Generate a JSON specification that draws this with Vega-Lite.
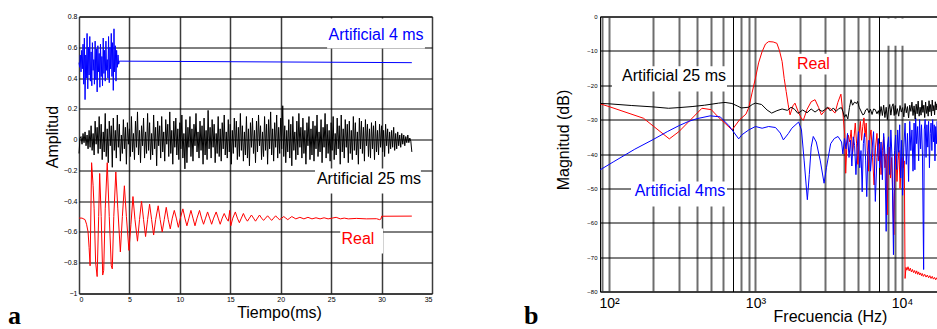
{
"$schema": "https://vega.github.io/schema/vega-lite/v6.json",
"background": "white",
"padding": {"left": 7, "top": 11.5, "right": 0, "bottom": 0},
"spacing": 90,
"config": {
  "font": "Liberation Sans",
  "view": {"stroke": "#000", "strokeWidth": 1},
  "axis": {"labelFont": "Liberation Sans", "titleFont": "Liberation Sans", "labelColor": "#000", "titleColor": "#000", "titleFontWeight": "normal", "ticks": false, "domain": false, "grid": true},
  "title": {"font": "Liberation Serif", "fontWeight": "bold", "fontSize": 26, "color": "#000"}
},
"datasets": {
  "boxA": [{"x":24.6,"x2":34.3,"y":0.787,"y2":0.592},{"x":23.4,"x2":33.9,"y":-0.188,"y2":-0.35},{"x":25.9,"x2":30.15,"y":-0.578,"y2":-0.74}],
  "labA": [{"x":29.45,"y":0.677,"t":"Artificial 4 ms","s":"A4"},{"x":28.75,"y":-0.256,"t":"Artificial 25 ms","s":"A25"},{"x":27.66,"y":-0.643,"t":"Real","s":"Real"}],
  "a4": [{"x":0,"y":0.5},{"x":0.07,"y":0.47},{"x":0.13,"y":0.55},{"x":0.2,"y":0.44},{"x":0.27,"y":0.58},{"x":0.33,"y":0.46},{"x":0.4,"y":0.62},{"x":0.47,"y":0.36},{"x":0.53,"y":0.66},{"x":0.6,"y":0.26},{"x":0.67,"y":0.55},{"x":0.73,"y":0.4},{"x":0.8,"y":0.69},{"x":0.87,"y":0.33},{"x":0.93,"y":0.6},{"x":1,"y":0.42},{"x":1.07,"y":0.67},{"x":1.13,"y":0.38},{"x":1.2,"y":0.57},{"x":1.27,"y":0.35},{"x":1.33,"y":0.63},{"x":1.4,"y":0.45},{"x":1.47,"y":0.52},{"x":1.53,"y":0.36},{"x":1.6,"y":0.64},{"x":1.67,"y":0.39},{"x":1.73,"y":0.59},{"x":1.8,"y":0.31},{"x":1.87,"y":0.61},{"x":1.93,"y":0.44},{"x":2,"y":0.56},{"x":2.07,"y":0.34},{"x":2.13,"y":0.62},{"x":2.2,"y":0.41},{"x":2.27,"y":0.54},{"x":2.33,"y":0.35},{"x":2.4,"y":0.66},{"x":2.47,"y":0.43},{"x":2.53,"y":0.58},{"x":2.6,"y":0.38},{"x":2.67,"y":0.64},{"x":2.73,"y":0.45},{"x":2.8,"y":0.52},{"x":2.87,"y":0.4},{"x":2.93,"y":0.67},{"x":3,"y":0.37},{"x":3.07,"y":0.6},{"x":3.13,"y":0.46},{"x":3.2,"y":0.69},{"x":3.27,"y":0.41},{"x":3.33,"y":0.63},{"x":3.4,"y":0.32},{"x":3.47,"y":0.72},{"x":3.53,"y":0.44},{"x":3.6,"y":0.61},{"x":3.67,"y":0.38},{"x":3.73,"y":0.58},{"x":3.8,"y":0.47},{"x":3.87,"y":0.55},{"x":3.93,"y":0.49},{"x":4,"y":0.51},{"x":33,"y":0.5}],
  "a25": [{"x":0,"y":-0.09},{"x":0.1,"y":0.01},{"x":0.2,"y":0.02},{"x":0.3,"y":-0.03},{"x":0.4,"y":0.04},{"x":0.5,"y":-0.02},{"x":0.6,"y":0.05},{"x":0.7,"y":-0.04},{"x":0.8,"y":0.03},{"x":0.9,"y":-0.06},
{"x":1,"y":0.06},{"x":1.1,"y":-0.05},{"x":1.2,"y":0.09},{"x":1.3,"y":-0.07},{"x":1.4,"y":0.04},{"x":1.5,"y":-0.1},{"x":1.6,"y":0.12},{"x":1.7,"y":-0.03},{"x":1.8,"y":0.08},{"x":1.9,"y":-0.09},
{"x":2,"y":0.15},{"x":2.1,"y":-0.06},{"x":2.2,"y":0.1},{"x":2.3,"y":-0.13},{"x":2.4,"y":0.05},{"x":2.5,"y":-0.08},{"x":2.6,"y":0.17},{"x":2.7,"y":-0.11},{"x":2.8,"y":0.07},{"x":2.9,"y":-0.15},
{"x":3,"y":0.12},{"x":3.1,"y":-0.04},{"x":3.2,"y":0.09},{"x":3.3,"y":-0.18},{"x":3.4,"y":0.14},{"x":3.5,"y":-0.07},{"x":3.6,"y":0.06},{"x":3.7,"y":-0.12},{"x":3.8,"y":0.16},{"x":3.9,"y":-0.05},
{"x":4,"y":0.1},{"x":4.1,"y":-0.14},{"x":4.2,"y":0.03},{"x":4.3,"y":-0.09},{"x":4.4,"y":0.13},{"x":4.5,"y":-0.06},{"x":4.6,"y":0.08},{"x":4.7,"y":-0.16},{"x":4.8,"y":0.11},{"x":4.9,"y":-0.03},
{"x":5,"y":0.07},{"x":5.1,"y":-0.11},{"x":5.2,"y":0.15},{"x":5.3,"y":-0.08},{"x":5.4,"y":0.04},{"x":5.5,"y":-0.13},{"x":5.6,"y":0.12},{"x":5.7,"y":-0.05},{"x":5.8,"y":0.18},{"x":5.9,"y":-0.1},
{"x":6,"y":0.06},{"x":6.1,"y":-0.15},{"x":6.2,"y":0.09},{"x":6.3,"y":-0.04},{"x":6.4,"y":0.14},{"x":6.5,"y":-0.12},{"x":6.6,"y":0.05},{"x":6.7,"y":-0.09},{"x":6.8,"y":0.17},{"x":6.9,"y":-0.07},
{"x":7,"y":0.11},{"x":7.1,"y":-0.13},{"x":7.2,"y":0.04},{"x":7.3,"y":-0.1},{"x":7.4,"y":0.16},{"x":7.5,"y":-0.06},{"x":7.6,"y":0.08},{"x":7.7,"y":-0.17},{"x":7.8,"y":0.12},{"x":7.9,"y":-0.04},
{"x":8,"y":0.09},{"x":8.1,"y":-0.12},{"x":8.2,"y":0.15},{"x":8.3,"y":-0.08},{"x":8.4,"y":0.05},{"x":8.5,"y":-0.14},{"x":8.6,"y":0.13},{"x":8.7,"y":-0.03},{"x":8.8,"y":0.1},{"x":8.9,"y":-0.11},
{"x":9,"y":0.18},{"x":9.1,"y":-0.09},{"x":9.2,"y":0.06},{"x":9.3,"y":-0.16},{"x":9.4,"y":0.12},{"x":9.5,"y":-0.05},{"x":9.6,"y":0.14},{"x":9.7,"y":-0.1},{"x":9.8,"y":0.07},{"x":9.9,"y":-0.13},
{"x":10,"y":0.11},{"x":10.1,"y":-0.06},{"x":10.2,"y":0.16},{"x":10.3,"y":-0.12},{"x":10.4,"y":0.04},{"x":10.5,"y":-0.19},{"x":10.6,"y":0.13},{"x":10.7,"y":-0.15},{"x":10.8,"y":0.08},{"x":10.9,"y":-0.05},
{"x":11,"y":0.15},{"x":11.1,"y":-0.11},{"x":11.2,"y":0.07},{"x":11.3,"y":-0.14},{"x":11.4,"y":0.1},{"x":11.5,"y":-0.04},{"x":11.6,"y":0.17},{"x":11.7,"y":-0.08},{"x":11.8,"y":0.05},{"x":11.9,"y":-0.12},
{"x":12,"y":0.12},{"x":12.1,"y":-0.07},{"x":12.2,"y":0.09},{"x":12.3,"y":-0.16},{"x":12.4,"y":0.14},{"x":12.5,"y":-0.1},{"x":12.6,"y":0.06},{"x":12.7,"y":-0.13},{"x":12.8,"y":0.19},{"x":12.9,"y":-0.06},
{"x":13,"y":0.08},{"x":13.1,"y":-0.12},{"x":13.2,"y":0.13},{"x":13.3,"y":-0.05},{"x":13.4,"y":0.1},{"x":13.5,"y":-0.15},{"x":13.6,"y":0.04},{"x":13.7,"y":-0.09},{"x":13.8,"y":0.15},{"x":13.9,"y":-0.11},
{"x":14,"y":0.07},{"x":14.1,"y":-0.14},{"x":14.2,"y":0.11},{"x":14.3,"y":-0.06},{"x":14.4,"y":0.16},{"x":14.5,"y":-0.1},{"x":14.6,"y":0.05},{"x":14.7,"y":-0.12},{"x":14.8,"y":0.13},{"x":14.9,"y":-0.08},
{"x":15,"y":0.1},{"x":15.1,"y":-0.16},{"x":15.2,"y":0.06},{"x":15.3,"y":-0.09},{"x":15.4,"y":0.14},{"x":15.5,"y":-0.05},{"x":15.6,"y":0.12},{"x":15.7,"y":-0.13},{"x":15.8,"y":0.08},{"x":15.9,"y":-0.11},
{"x":16,"y":0.17},{"x":16.1,"y":-0.07},{"x":16.2,"y":0.09},{"x":16.3,"y":-0.14},{"x":16.4,"y":0.05},{"x":16.5,"y":-0.1},{"x":16.6,"y":0.15},{"x":16.7,"y":-0.12},{"x":16.8,"y":0.07},{"x":16.9,"y":-0.17},
{"x":17,"y":0.11},{"x":17.1,"y":-0.05},{"x":17.2,"y":0.14},{"x":17.3,"y":-0.09},{"x":17.4,"y":0.06},{"x":17.5,"y":-0.15},{"x":17.6,"y":0.12},{"x":17.7,"y":-0.08},{"x":17.8,"y":0.16},{"x":17.9,"y":-0.04},
{"x":18,"y":0.09},{"x":18.1,"y":-0.13},{"x":18.2,"y":0.05},{"x":18.3,"y":-0.11},{"x":18.4,"y":0.15},{"x":18.5,"y":-0.07},{"x":18.6,"y":0.1},{"x":18.7,"y":-0.16},{"x":18.8,"y":0.13},{"x":18.9,"y":-0.06},
{"x":19,"y":0.18},{"x":19.1,"y":-0.1},{"x":19.2,"y":0.07},{"x":19.3,"y":-0.14},{"x":19.4,"y":0.11},{"x":19.5,"y":-0.05},{"x":19.6,"y":0.16},{"x":19.7,"y":-0.12},{"x":19.8,"y":0.08},{"x":19.9,"y":-0.09},
{"x":20,"y":0.14},{"x":20.1,"y":-0.06},{"x":20.2,"y":0.22},{"x":20.3,"y":-0.11},{"x":20.4,"y":0.09},{"x":20.5,"y":-0.15},{"x":20.6,"y":0.06},{"x":20.7,"y":-0.08},{"x":20.8,"y":0.13},{"x":20.9,"y":-0.12},
{"x":21,"y":0.1},{"x":21.1,"y":-0.17},{"x":21.2,"y":0.15},{"x":21.3,"y":-0.07},{"x":21.4,"y":0.05},{"x":21.5,"y":-0.13},{"x":21.6,"y":0.12},{"x":21.7,"y":-0.1},{"x":21.8,"y":0.17},{"x":21.9,"y":-0.05},
{"x":22,"y":0.08},{"x":22.1,"y":-0.12},{"x":22.2,"y":0.14},{"x":22.3,"y":-0.09},{"x":22.4,"y":0.06},{"x":22.5,"y":-0.16},{"x":22.6,"y":0.11},{"x":22.7,"y":-0.04},{"x":22.8,"y":0.15},{"x":22.9,"y":-0.13},
{"x":23,"y":0.07},{"x":23.1,"y":-0.1},{"x":23.2,"y":0.12},{"x":23.3,"y":-0.14},{"x":23.4,"y":0.09},{"x":23.5,"y":-0.06},{"x":23.6,"y":0.16},{"x":23.7,"y":-0.11},{"x":23.8,"y":0.05},{"x":23.9,"y":-0.08},
{"x":24,"y":0.13},{"x":24.1,"y":-0.15},{"x":24.2,"y":0.08},{"x":24.3,"y":-0.05},{"x":24.4,"y":0.17},{"x":24.5,"y":-0.12},{"x":24.6,"y":0.1},{"x":24.7,"y":-0.09},{"x":24.8,"y":0.06},{"x":24.9,"y":-0.14},
{"x":25,"y":0.11},{"x":25.1,"y":-0.07},{"x":25.2,"y":0.15},{"x":25.3,"y":-0.13},{"x":25.4,"y":0.04},{"x":25.5,"y":-0.1},{"x":25.6,"y":0.14},{"x":25.7,"y":-0.06},{"x":25.8,"y":0.09},{"x":25.9,"y":-0.16},
{"x":26,"y":0.16},{"x":26.1,"y":-0.08},{"x":26.2,"y":0.07},{"x":26.3,"y":-0.12},{"x":26.4,"y":0.13},{"x":26.5,"y":-0.05},{"x":26.6,"y":0.1},{"x":26.7,"y":-0.15},{"x":26.8,"y":0.12},{"x":26.9,"y":-0.09},
{"x":27,"y":0.06},{"x":27.1,"y":-0.13},{"x":27.2,"y":0.15},{"x":27.3,"y":-0.07},{"x":27.4,"y":0.11},{"x":27.5,"y":-0.1},{"x":27.6,"y":0.05},{"x":27.7,"y":-0.16},{"x":27.8,"y":0.14},{"x":27.9,"y":-0.06},
{"x":28,"y":0.12},{"x":28.1,"y":-0.09},{"x":28.2,"y":0.08},{"x":28.3,"y":-0.14},{"x":28.4,"y":0.13},{"x":28.5,"y":-0.04},{"x":28.6,"y":0.1},{"x":28.7,"y":-0.11},{"x":28.8,"y":0.07},{"x":28.9,"y":-0.12},
{"x":29,"y":0.11},{"x":29.1,"y":-0.06},{"x":29.2,"y":0.09},{"x":29.3,"y":-0.13},{"x":29.4,"y":0.12},{"x":29.5,"y":-0.08},{"x":29.6,"y":0.06},{"x":29.7,"y":-0.1},{"x":29.8,"y":0.1},{"x":29.9,"y":-0.05},
{"x":30,"y":0.09},{"x":30.1,"y":-0.08},{"x":30.2,"y":0.06},{"x":30.3,"y":-0.11},{"x":30.4,"y":0.1},{"x":30.5,"y":-0.04},{"x":30.6,"y":0.07},{"x":30.7,"y":-0.09},{"x":30.8,"y":0.05},{"x":30.9,"y":-0.06},
{"x":31,"y":0.06},{"x":31.1,"y":-0.05},{"x":31.2,"y":0.08},{"x":31.3,"y":-0.07},{"x":31.4,"y":0.04},{"x":31.5,"y":-0.06},{"x":31.6,"y":0.05},{"x":31.7,"y":-0.04},{"x":31.8,"y":0.03},{"x":31.9,"y":-0.05},
{"x":32,"y":0.04},{"x":32.1,"y":-0.03},{"x":32.2,"y":0.03},{"x":32.3,"y":-0.04},{"x":32.4,"y":0.02},{"x":32.5,"y":-0.02},{"x":32.6,"y":0.03},{"x":32.7,"y":-0.02},{"x":32.8,"y":0.01},{"x":32.9,"y":-0.01},{"x":33,"y":-0.08}],
  "aReal": [{"x":0,"y":-0.51},{"x":0.3,"y":-0.51},{"x":0.6,"y":-0.52},{"x":0.75,"y":-0.55},{"x":0.9,"y":-0.6},{"x":1,"y":-0.7},{"x":1.1,"y":-0.82},{"x":1.25,"y":-0.15},{"x":1.4,"y":-0.3},{"x":1.5,"y":-0.45},{"x":1.65,"y":-0.8},{"x":1.8,"y":-0.89},{"x":1.95,"y":-0.5},{"x":2.05,"y":-0.22},{"x":2.2,"y":-0.5},{"x":2.35,"y":-0.88},{"x":2.45,"y":-0.85},{"x":2.6,"y":-0.45},{"x":2.8,"y":-0.15},{"x":3,"y":-0.5},{"x":3.2,"y":-0.82},{"x":3.3,"y":-0.84},{"x":3.45,"y":-0.5},{"x":3.65,"y":-0.21},{"x":3.85,"y":-0.45},{"x":4.1,"y":-0.73},{"x":4.3,"y":-0.5},{"x":4.5,"y":-0.3},{"x":4.7,"y":-0.5},{"x":4.95,"y":-0.72},{"x":5.15,"y":-0.55},{"x":5.35,"y":-0.37},{"x":5.55,"y":-0.52},{"x":5.8,"y":-0.66},{"x":6,"y":-0.52},{"x":6.2,"y":-0.4},{"x":6.4,"y":-0.52},{"x":6.6,"y":-0.63},{"x":6.8,"y":-0.52},{"x":7,"y":-0.42},{"x":7.2,"y":-0.52},{"x":7.4,"y":-0.62},{"x":7.6,"y":-0.52},{"x":7.85,"y":-0.43},{"x":8.05,"y":-0.52},{"x":8.25,"y":-0.6},{"x":8.45,"y":-0.52},{"x":8.65,"y":-0.44},{"x":8.85,"y":-0.52},{"x":9.05,"y":-0.58},{"x":9.25,"y":-0.51},{"x":9.45,"y":-0.46},{"x":9.65,"y":-0.51},{"x":9.85,"y":-0.57},{"x":10.05,"y":-0.51},{"x":10.3,"y":-0.45},{"x":10.5,"y":-0.51},{"x":10.7,"y":-0.56},{"x":10.9,"y":-0.51},{"x":11.1,"y":-0.46},{"x":11.3,"y":-0.51},{"x":11.5,"y":-0.56},{"x":11.7,"y":-0.51},{"x":11.95,"y":-0.46},{"x":12.15,"y":-0.51},{"x":12.35,"y":-0.55},{"x":12.55,"y":-0.51},{"x":12.75,"y":-0.47},{"x":12.95,"y":-0.51},{"x":13.15,"y":-0.55},{"x":13.35,"y":-0.51},{"x":13.6,"y":-0.47},{"x":13.8,"y":-0.51},{"x":14,"y":-0.55},{"x":14.2,"y":-0.51},{"x":14.4,"y":-0.48},{"x":14.6,"y":-0.51},{"x":14.8,"y":-0.53},{"x":14.95,"y":-0.46},{"x":15.05,"y":-0.56},{"x":15.25,"y":-0.51},{"x":15.5,"y":-0.47},{"x":15.7,"y":-0.51},{"x":15.9,"y":-0.54},{"x":16.1,"y":-0.51},{"x":16.3,"y":-0.48},{"x":16.5,"y":-0.51},{"x":16.7,"y":-0.53},{"x":16.9,"y":-0.51},{"x":17.1,"y":-0.49},{"x":17.3,"y":-0.51},{"x":17.5,"y":-0.53},{"x":17.7,"y":-0.51},{"x":17.9,"y":-0.49},{"x":18.1,"y":-0.51},{"x":18.3,"y":-0.525},{"x":18.5,"y":-0.51},{"x":18.7,"y":-0.495},{"x":18.9,"y":-0.51},{"x":19.1,"y":-0.525},{"x":19.3,"y":-0.51},{"x":19.5,"y":-0.495},{"x":19.7,"y":-0.51},{"x":19.9,"y":-0.52},{"x":20.1,"y":-0.51},{"x":20.3,"y":-0.5},{"x":20.5,"y":-0.51},{"x":20.7,"y":-0.52},{"x":20.9,"y":-0.51},{"x":21.1,"y":-0.5},{"x":21.5,"y":-0.515},{"x":21.9,"y":-0.505},{"x":22.3,"y":-0.515},{"x":22.7,"y":-0.505},{"x":23.1,"y":-0.515},{"x":23.5,"y":-0.508},{"x":23.9,"y":-0.515},{"x":24.3,"y":-0.508},{"x":24.7,"y":-0.515},{"x":25.1,"y":-0.51},{"x":25.5,"y":-0.505},{"x":25.9,"y":-0.515},{"x":26.3,"y":-0.51},{"x":26.7,"y":-0.515},{"x":27.5,"y":-0.512},{"x":28.5,"y":-0.515},{"x":29.5,"y":-0.514},{"x":29.8,"y":-0.52},{"x":29.95,"y":-0.515},{"x":30,"y":-0.498},{"x":33,"y":-0.497}],
  "boxB": [{"x":104.8,"x2":639,"y":-14.5,"y2":-21.8},{"x":141.3,"x2":639,"y":-48,"y2":-55.3},{"x":1919,"x2":3226,"y":-10.8,"y2":-16.9},{"x":7500,"x2":10500,"y":-0.6,"y2":-8.5}],
  "labB": [{"x":277.8,"y":-17.45,"t":"Artificial 25 ms","s":"A25"},{"x":305.2,"y":-50.9,"t":"Artificial 4ms","s":"A4"},{"x":2488,"y":-13.96,"t":"Real","s":"Real"}],
  "bRed": [{"x":87,"y":-25.4},{"x":100,"y":-26.2},{"x":172,"y":-29.6},{"x":258,"y":-35.6},{"x":300,"y":-33.5},{"x":431,"y":-26.7},{"x":499,"y":-27.1},{"x":550,"y":-29},{"x":692,"y":-33},{"x":780,"y":-30},{"x":861,"y":-28.4},{"x":900,"y":-26.5},{"x":950,"y":-22},{"x":1000,"y":-17.9},{"x":1050,"y":-13.5},{"x":1110,"y":-10.2},{"x":1170,"y":-8},{"x":1230,"y":-7.3},{"x":1320,"y":-7.4},{"x":1400,"y":-7.8},{"x":1460,"y":-10},{"x":1520,"y":-13.1},{"x":1570,"y":-18},{"x":1620,"y":-21.8},{"x":1670,"y":-25.5},{"x":1722,"y":-28.6},{"x":1800,"y":-26},{"x":1860,"y":-25.2},{"x":1950,"y":-27.5},{"x":2050,"y":-29.5},{"x":2120,"y":-30.2},{"x":2250,"y":-27},{"x":2400,"y":-24.8},{"x":2550,"y":-24.2},{"x":2700,"y":-26.5},{"x":2820,"y":-28.6},{"x":3000,"y":-27.2},{"x":3150,"y":-26.5},{"x":3300,"y":-27},{"x":3490,"y":-28.1},{"x":3650,"y":-25},{"x":3830,"y":-22.6},{"x":3950,"y":-28},{"x":4070,"y":-34.4},{"x":4130,"y":-45.6},{"x":4200,"y":-38},{"x":4300,"y":-34.5},{"x":4400,"y":-36.5},{"x":4500,"y":-33},{"x":4600,"y":-40},{"x":4700,"y":-35.5},{"x":4800,"y":-31},{"x":4900,"y":-37},{"x":5000,"y":-43},{"x":5100,"y":-34},{"x":5200,"y":-30.5},{"x":5300,"y":-36},{"x":5400,"y":-32},{"x":5500,"y":-29.5},{"x":5600,"y":-35},{"x":5700,"y":-31},{"x":5800,"y":-39},{"x":5900,"y":-45},{"x":6000,"y":-36},{"x":6150,"y":-33},{"x":6300,"y":-41},{"x":6450,"y":-49},{"x":6600,"y":-38},{"x":6750,"y":-34},{"x":6900,"y":-42},{"x":7050,"y":-37},{"x":7200,"y":-46},{"x":7350,"y":-39},{"x":7500,"y":-35},{"x":7650,"y":-44},{"x":7800,"y":-40},{"x":7920,"y":-57.7},{"x":8050,"y":-42},{"x":8200,"y":-38},{"x":8350,"y":-47},{"x":8500,"y":-41},{"x":8650,"y":-52},{"x":8800,"y":-63.5},{"x":8950,"y":-44},{"x":9100,"y":-40},{"x":9250,"y":-48},{"x":9400,"y":-42},{"x":9550,"y":-39},{"x":9700,"y":-50},{"x":9850,"y":-45},{"x":10000,"y":-41},{"x":10200,"y":-44},{"x":10380,"y":-42},{"x":10500,"y":-76.2},{"x":10650,"y":-73},{"x":10800,"y":-73.8},{"x":11000,"y":-72.8},{"x":11200,"y":-74},{"x":11400,"y":-73.2},{"x":11600,"y":-74.3},{"x":11800,"y":-73.6},{"x":12000,"y":-74.5},{"x":12200,"y":-73.9},{"x":12400,"y":-74.8},{"x":12600,"y":-74},{"x":12800,"y":-75},{"x":13000,"y":-74.3},{"x":13200,"y":-75.2},{"x":13400,"y":-74.6},{"x":13600,"y":-75.4},{"x":13800,"y":-74.8},{"x":14000,"y":-75.6},{"x":14300,"y":-75},{"x":14600,"y":-75.8},{"x":14900,"y":-75.2},{"x":15200,"y":-76},{"x":15500,"y":-75.4},{"x":15800,"y":-76.2},{"x":16100,"y":-75.6},{"x":16400,"y":-76.4},{"x":16700,"y":-75.9},{"x":17000,"y":-76.6},{"x":17300,"y":-76},{"x":17600,"y":-76.5},{"x":17900,"y":-76.1}],
  "bBlue": [{"x":87,"y":-44.6},{"x":108,"y":-42.2},{"x":150,"y":-38.6},{"x":200,"y":-35.8},{"x":250,"y":-33.5},{"x":299,"y":-31.8},{"x":350,"y":-30.5},{"x":400,"y":-29.7},{"x":491,"y":-28.9},{"x":575,"y":-29.2},{"x":660,"y":-31.8},{"x":768,"y":-35.6},{"x":808,"y":-34.4},{"x":899,"y":-33},{"x":1000,"y":-32},{"x":1110,"y":-32.5},{"x":1230,"y":-32},{"x":1370,"y":-32.3},{"x":1476,"y":-33.9},{"x":1550,"y":-35.9},{"x":1680,"y":-34},{"x":1770,"y":-32.5},{"x":1970,"y":-30.7},{"x":2060,"y":-33},{"x":2150,"y":-42},{"x":2260,"y":-53.3},{"x":2330,"y":-46},{"x":2400,"y":-38},{"x":2480,"y":-34.9},{"x":2600,"y":-36.5},{"x":2770,"y":-42},{"x":2940,"y":-48.5},{"x":3050,"y":-44},{"x":3260,"y":-37},{"x":3450,"y":-35.5},{"x":3660,"y":-34.9},{"x":3870,"y":-36.5},{"x":3950,"y":-40},{"x":4050,"y":-35.5},{"x":4150,"y":-38.5},{"x":4250,"y":-34},{"x":4350,"y":-41},{"x":4450,"y":-36},{"x":4550,"y":-43.5},{"x":4650,"y":-35},{"x":4750,"y":-37.5},{"x":4850,"y":-46},{"x":4950,"y":-38},{"x":5050,"y":-33.5},{"x":5150,"y":-44},{"x":5250,"y":-39},{"x":5350,"y":-51},{"x":5450,"y":-37},{"x":5550,"y":-34},{"x":5650,"y":-42},{"x":5750,"y":-52.4},{"x":5850,"y":-40},{"x":5950,"y":-36},{"x":6100,"y":-45},{"x":6250,"y":-38.5},{"x":6400,"y":-33.5},{"x":6580,"y":-53.8},{"x":6750,"y":-41},{"x":6900,"y":-35.5},{"x":7050,"y":-44},{"x":7200,"y":-36.5},{"x":7350,"y":-47.5},{"x":7500,"y":-34},{"x":7650,"y":-40},{"x":7800,"y":-62.5},{"x":7950,"y":-38},{"x":8100,"y":-35},{"x":8250,"y":-46},{"x":8400,"y":-33},{"x":8550,"y":-41},{"x":8750,"y":-69.3},{"x":8900,"y":-39},{"x":9050,"y":-34.5},{"x":9200,"y":-44.5},{"x":9350,"y":-33},{"x":9500,"y":-39.5},{"x":9650,"y":-31.5},{"x":9800,"y":-47},{"x":9950,"y":-36},{"x":10100,"y":-52},{"x":10300,"y":-38},{"x":10500,"y":-31},{"x":10700,"y":-43},{"x":10900,"y":-34},{"x":11100,"y":-48},{"x":11300,"y":-30.5},{"x":11500,"y":-39},{"x":11700,"y":-33},{"x":11900,"y":-45},{"x":12100,"y":-31},{"x":12250,"y":-44.6},{"x":12400,"y":-29.5},{"x":12600,"y":-37},{"x":12800,"y":-32},{"x":13000,"y":-42},{"x":13200,"y":-30},{"x":13400,"y":-38.5},{"x":13600,"y":-31.5},{"x":13800,"y":-40},{"x":14060,"y":-73.6},{"x":14200,"y":-33},{"x":14400,"y":-30},{"x":14600,"y":-41},{"x":14800,"y":-31.5},{"x":15000,"y":-38},{"x":15200,"y":-30.5},{"x":15400,"y":-44},{"x":15600,"y":-34},{"x":15800,"y":-31},{"x":16000,"y":-39},{"x":16200,"y":-30},{"x":16400,"y":-36.5},{"x":16600,"y":-31.5},{"x":16800,"y":-42},{"x":17000,"y":-32},{"x":17200,"y":-37},{"x":17400,"y":-30.5},{"x":17600,"y":-35},{"x":17900,"y":-32}],
  "bBlack": [{"x":87,"y":-25.3},{"x":100,"y":-25.4},{"x":143,"y":-25.9},{"x":200,"y":-26.3},{"x":255,"y":-26.7},{"x":300,"y":-26.5},{"x":369,"y":-26.2},{"x":450,"y":-25.8},{"x":560,"y":-25.2},{"x":620,"y":-25},{"x":690,"y":-25.3},{"x":750,"y":-26},{"x":800,"y":-26.6},{"x":897,"y":-26.4},{"x":950,"y":-25.6},{"x":1000,"y":-25.2},{"x":1100,"y":-25.6},{"x":1200,"y":-27.2},{"x":1290,"y":-28.1},{"x":1400,"y":-27.4},{"x":1520,"y":-26.9},{"x":1650,"y":-27.3},{"x":1750,"y":-26.4},{"x":1850,"y":-27},{"x":1950,"y":-28.2},{"x":2100,"y":-27.2},{"x":2250,"y":-28},{"x":2400,"y":-26.9},{"x":2550,"y":-27.8},{"x":2700,"y":-27},{"x":2850,"y":-27.6},{"x":2970,"y":-27.1},{"x":3100,"y":-26.4},{"x":3250,"y":-27.5},{"x":3400,"y":-26.6},{"x":3550,"y":-27.6},{"x":3700,"y":-26.8},{"x":3860,"y":-26.5},{"x":3950,"y":-27.6},{"x":4050,"y":-29.3},{"x":4150,"y":-28.5},{"x":4270,"y":-29.8},{"x":4380,"y":-26.5},{"x":4490,"y":-24.2},{"x":4600,"y":-25.8},{"x":4750,"y":-24.9},{"x":4900,"y":-25.3},{"x":4980,"y":-24.7},{"x":5100,"y":-26.4},{"x":5250,"y":-27.5},{"x":5400,"y":-28.6},{"x":5520,"y":-28.4},{"x":5650,"y":-27.2},{"x":5800,"y":-26.8},{"x":5950,"y":-28},{"x":6100,"y":-27},{"x":6250,"y":-28.5},{"x":6400,"y":-26.9},{"x":6570,"y":-27.1},{"x":6750,"y":-28.3},{"x":6900,"y":-27.4},{"x":7050,"y":-29},{"x":7200,"y":-26.2},{"x":7350,"y":-28.8},{"x":7500,"y":-25.8},{"x":7650,"y":-29.4},{"x":7800,"y":-26.4},{"x":7950,"y":-30},{"x":8100,"y":-27},{"x":8250,"y":-25.6},{"x":8400,"y":-28.7},{"x":8550,"y":-26.2},{"x":8700,"y":-25.4},{"x":8850,"y":-28.8},{"x":9000,"y":-25.9},{"x":9100,"y":-28.5},{"x":9300,"y":-26.8},{"x":9500,"y":-29},{"x":9700,"y":-25.9},{"x":9900,"y":-27.8},{"x":10100,"y":-26.5},{"x":10300,"y":-29.2},{"x":10500,"y":-25.3},{"x":10700,"y":-28},{"x":10900,"y":-26.2},{"x":11100,"y":-29.5},{"x":11300,"y":-25.8},{"x":11500,"y":-27.6},{"x":11700,"y":-24.9},{"x":11900,"y":-28.8},{"x":12100,"y":-26},{"x":12300,"y":-29.8},{"x":12500,"y":-25.5},{"x":12700,"y":-28.3},{"x":12900,"y":-24.6},{"x":13100,"y":-29},{"x":13300,"y":-26.4},{"x":13500,"y":-28.7},{"x":13700,"y":-24.4},{"x":13900,"y":-27.9},{"x":14100,"y":-25.8},{"x":14300,"y":-29.4},{"x":14500,"y":-24.9},{"x":14700,"y":-28.2},{"x":14900,"y":-26.1},{"x":15100,"y":-29},{"x":15300,"y":-24.5},{"x":15500,"y":-27.7},{"x":15700,"y":-25.6},{"x":15900,"y":-28.9},{"x":16100,"y":-24.3},{"x":16300,"y":-27.5},{"x":16500,"y":-25.9},{"x":16700,"y":-28.6},{"x":16900,"y":-24.8},{"x":17100,"y":-27.2},{"x":17300,"y":-25.4},{"x":17600,"y":-26.5},{"x":17900,"y":-25}]
},
"hconcat": [
  {
    "width": 353, "height": 277,
    "title": {"text": "a", "orient": "bottom", "anchor": "start", "frame": "bounds", "offset": 0, "dx": -36, "dy": -18},
    "encoding": {
      "x": {"field": "x", "type": "quantitative", "scale": {"domain": [0, 35], "nice": false, "zero": false},
            "axis": {"values": [0,5,10,15,20,25,30,35], "format": "d", "labelFontSize": 7, "labelPadding": 2, "gridColor": "#3c3c3c", "gridWidth": 1.5, "title": "Tiempo(ms)", "titleFontSize": 16, "titleX": 200, "titleY": 11, "titleBaseline": "top"}},
      "y": {"field": "y", "type": "quantitative", "scale": {"domain": [-1, 0.8], "nice": false, "zero": false},
            "axis": {"values": [-1,-0.8,-0.6,-0.4,-0.2,0,0.2,0.4,0.6,0.8], "format": "~g", "labelFontSize": 7, "labelPadding": 2, "gridColor": "#000", "gridWidth": 1, "title": "Amplitud", "titleFontSize": 16, "titleX": -19, "titleY": 120}}
    },
    "layer": [
      {"data": {"name": "boxA"}, "mark": {"type": "rect", "fill": "#fff"}, "encoding": {"x2": {"field": "x2"}, "y2": {"field": "y2"}}},
      {"data": {"name": "a4"}, "mark": {"type": "line", "color": "#0000ff", "strokeWidth": 1}, "encoding": {}},
      {"data": {"name": "a25"}, "mark": {"type": "line", "color": "#000000", "strokeWidth": 1}, "encoding": {}},
      {"data": {"name": "aReal"}, "mark": {"type": "line", "color": "#ff0000", "strokeWidth": 1}, "encoding": {}},
      {"data": {"name": "labA"}, "mark": {"type": "text", "fontSize": 16, "font": "Liberation Sans"},
       "encoding": {"text": {"field": "t"}, "color": {"field": "s", "type": "nominal", "scale": {"domain": ["A4","A25","Real"], "range": ["#0000ff","#000000","#ff0000"]}, "legend": null}}}
    ]
  },
  {
    "width": 339, "height": 275,
    "title": {"text": "b", "orient": "bottom", "anchor": "start", "frame": "bounds", "offset": 0, "dx": -31, "dy": -22},
    "encoding": {
      "x": {"field": "x", "type": "quantitative", "scale": {"type": "log", "domain": [86.8, 17900], "nice": false},
            "axis": {"values": [90,100,200,300,400,500,600,700,800,900,1000,2000,3000,4000,5000,6000,7000,8000,9000,10000],
                     "labelExpr": "datum.value == 100 ? '10²' : datum.value == 1000 ? '10³' : datum.value == 10000 ? '10⁴' : ''",
                     "labelFontSize": 14, "labelPadding": 5, "labelDx": 5, "labelOverlap": false,
                     "gridColor": {"condition": {"test": "datum.value == 700 || datum.value == 7000", "value": "#000000"}, "value": "#6e6e6e"},
                     "gridWidth": {"condition": {"test": "datum.value == 700 || datum.value == 7000", "value": 1}, "value": 2},
                     "title": "Frecuencia (Hz)", "titleFontSize": 16, "titleX": 230, "titleY": 17, "titleBaseline": "top"}},
      "y": {"field": "y", "type": "quantitative", "scale": {"domain": [-80, 0], "nice": false, "zero": false},
            "axis": {"values": [-80,-70,-60,-50,-40,-30,-20,-10,0], "format": "d", "labelFontSize": 6, "labelPadding": 3, "gridColor": "#000", "gridWidth": 1, "title": "Magnitud (dB)", "titleFontSize": 16, "titleX": -29, "titleY": 123}}
    },
    "layer": [
      {"data": {"name": "boxB"}, "mark": {"type": "rect", "fill": "#fff"}, "encoding": {"x2": {"field": "x2"}, "y2": {"field": "y2"}}},
      {"data": {"name": "bRed"}, "mark": {"type": "line", "color": "#ff0000", "strokeWidth": 1, "clip": true}, "encoding": {}},
      {"data": {"name": "bBlue"}, "mark": {"type": "line", "color": "#0000ff", "strokeWidth": 1, "clip": true}, "encoding": {}},
      {"data": {"name": "bBlack"}, "mark": {"type": "line", "color": "#000000", "strokeWidth": 1, "clip": true}, "encoding": {}},
      {"data": {"name": "labB"}, "mark": {"type": "text", "fontSize": 16, "font": "Liberation Sans"},
       "encoding": {"text": {"field": "t"}, "color": {"field": "s", "type": "nominal", "scale": {"domain": ["A4","A25","Real"], "range": ["#0000ff","#000000","#ff0000"]}, "legend": null}}}
    ]
  }
]
}
